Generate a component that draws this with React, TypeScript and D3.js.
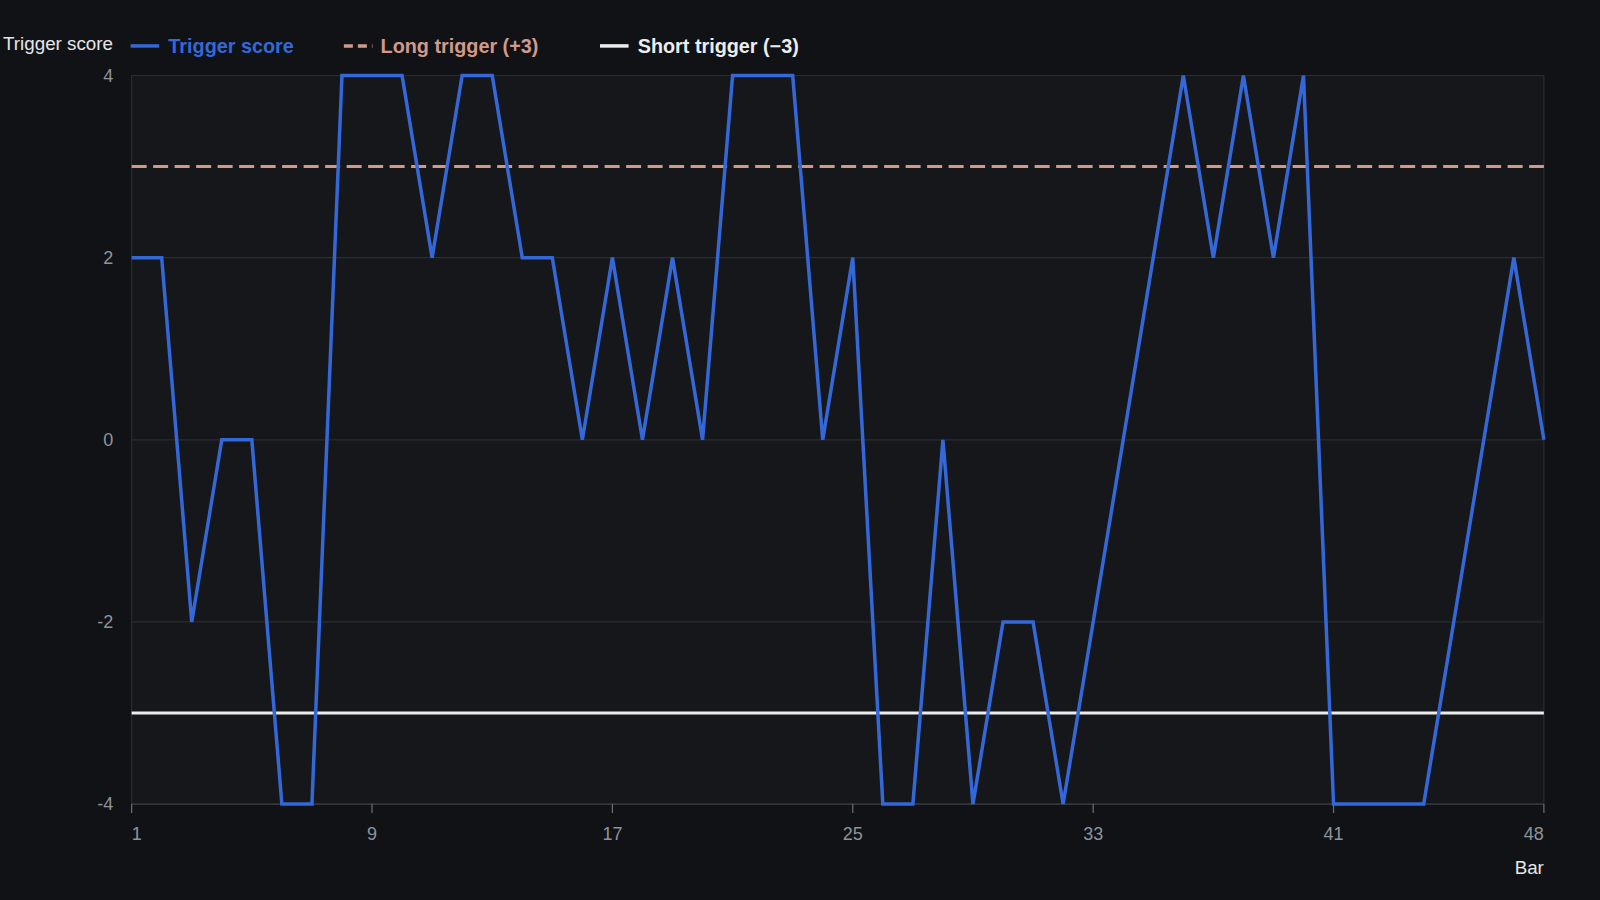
import React, { useEffect } from "react";
import * as d3 from "d3";

const bars: number[] = Array.from({ length: 48 }, (_, i) => i + 1);
const triggerScore: number[] = [
  2, 2, -2, 0, 0, -4, -4, 4, 4, 4, 2, 4, 4, 2, 2, 0, 2, 0, 2, 0, 4, 4, 4, 0,
  2, -4, -4, 0, -4, -2, -2, -4, -2, 0, 2, 4, 2, 4, 2, 4, -4, -4, -4, -4, -2, 0,
  2, 0,
];
const longTrigger = 3;
const shortTrigger = -3;
const xTicks: number[] = [1, 9, 17, 25, 33, 41, 48];
const yTicks: number[] = [-4, -2, 0, 2, 4];

const W = 1600;
const H = 900;
const S = 1600 / 1568;
const M = { left: 129 * S, right: 1513 * S, top: 74 * S, bottom: 788 * S };

const BG = "#101216";
const BLUE = "#3468d8";
const SALMON = "#d09a8a";
const WHITE = "#ececec";
const GRID = "#2a2d32";
const TICK = "#8f949b";
const FONT = "'Liberation Sans', Arial, Helvetica, sans-serif";

export default function App() {
  useEffect(() => {
    document.body.style.margin = "0";
    document.body.style.background = BG;
  }, []);
  const x = d3.scaleLinear().domain([1, 48]).range([M.left, M.right]);
  const y = d3.scaleLinear().domain([-4, 4]).range([M.bottom, M.top]);
  const line = d3
    .line<number>()
    .x((_, i) => x(bars[i]))
    .y((d) => y(d));

  return (
    <svg width={W} height={H} style={{ display: "block", background: BG }}>
      <rect x={0} y={0} width={W} height={H} fill={BG} />
      <rect
        x={M.left}
        y={M.top}
        width={M.right - M.left}
        height={M.bottom - M.top}
        fill="#15171b"
      />
      {yTicks.map((t) => (
        <g key={t}>
          <line x1={M.left} x2={M.right} y1={y(t)} y2={y(t)} stroke={GRID} strokeWidth={1.2} />
          <text
            x={111 * S}
            y={y(t)}
            dy="0.35em"
            textAnchor="end"
            fill={TICK}
            fontSize={18}
            fontFamily={FONT}
          >
            {t}
          </text>
        </g>
      ))}
      <line x1={M.left} x2={M.left} y1={M.top} y2={M.bottom} stroke={GRID} strokeWidth={1.2} />
      <line x1={M.right} x2={M.right} y1={M.top} y2={M.bottom} stroke={GRID} strokeWidth={1.2} />
      <line x1={M.left} x2={M.right} y1={M.bottom} y2={M.bottom} stroke="#3a3d42" strokeWidth={1.2} />
      {xTicks.map((t, i) => (
        <g key={t}>
          <line x1={x(t)} x2={x(t)} y1={M.bottom} y2={M.bottom + 9} stroke="#6b7076" strokeWidth={1.2} />
          <text
            x={x(t)}
            y={823 * S}
            textAnchor={i === 0 ? "start" : i === xTicks.length - 1 ? "end" : "middle"}
            fill={TICK}
            fontSize={18}
            fontFamily={FONT}
          >
            {t}
          </text>
        </g>
      ))}
      <line
        x1={M.left}
        x2={M.right}
        y1={y(longTrigger)}
        y2={y(longTrigger)}
        stroke={SALMON}
        strokeWidth={3}
        strokeDasharray="15 6.5"
      />
      <line
        x1={M.left}
        x2={M.right}
        y1={y(shortTrigger)}
        y2={y(shortTrigger)}
        stroke={WHITE}
        strokeWidth={3}
      />
      <path
        d={line(triggerScore) || ""}
        fill="none"
        stroke={BLUE}
        strokeWidth={3.5}
        strokeLinejoin="miter"
      />
      <text x={3 * S} y={49 * S} fill="#e6e6e6" fontSize={18.8} fontFamily={FONT}>
        Trigger score
      </text>
      <line x1={128 * S} x2={156 * S} y1={45 * S} y2={45 * S} stroke={BLUE} strokeWidth={3.5} />
      <text x={165 * S} y={52 * S} fill={BLUE} fontSize={19.8} fontWeight="bold" fontFamily={FONT}>
        Trigger score
      </text>
      <line
        x1={337 * S}
        x2={365 * S}
        y1={45 * S}
        y2={45 * S}
        stroke={SALMON}
        strokeWidth={3.5}
        strokeDasharray="9 5"
      />
      <text x={373 * S} y={52 * S} fill={SALMON} fontSize={19.8} fontWeight="bold" fontFamily={FONT}>
        Long trigger (+3)
      </text>
      <line x1={588 * S} x2={616 * S} y1={45 * S} y2={45 * S} stroke={WHITE} strokeWidth={3.5} />
      <text x={625 * S} y={52 * S} fill="#ececec" fontSize={19.8} fontWeight="bold" fontFamily={FONT}>
        Short trigger (−3)
      </text>
      <text x={M.right} y={857 * S} textAnchor="end" fill="#e6e6e6" fontSize={18.8} fontFamily={FONT}>
        Bar
      </text>
    </svg>
  );
}
